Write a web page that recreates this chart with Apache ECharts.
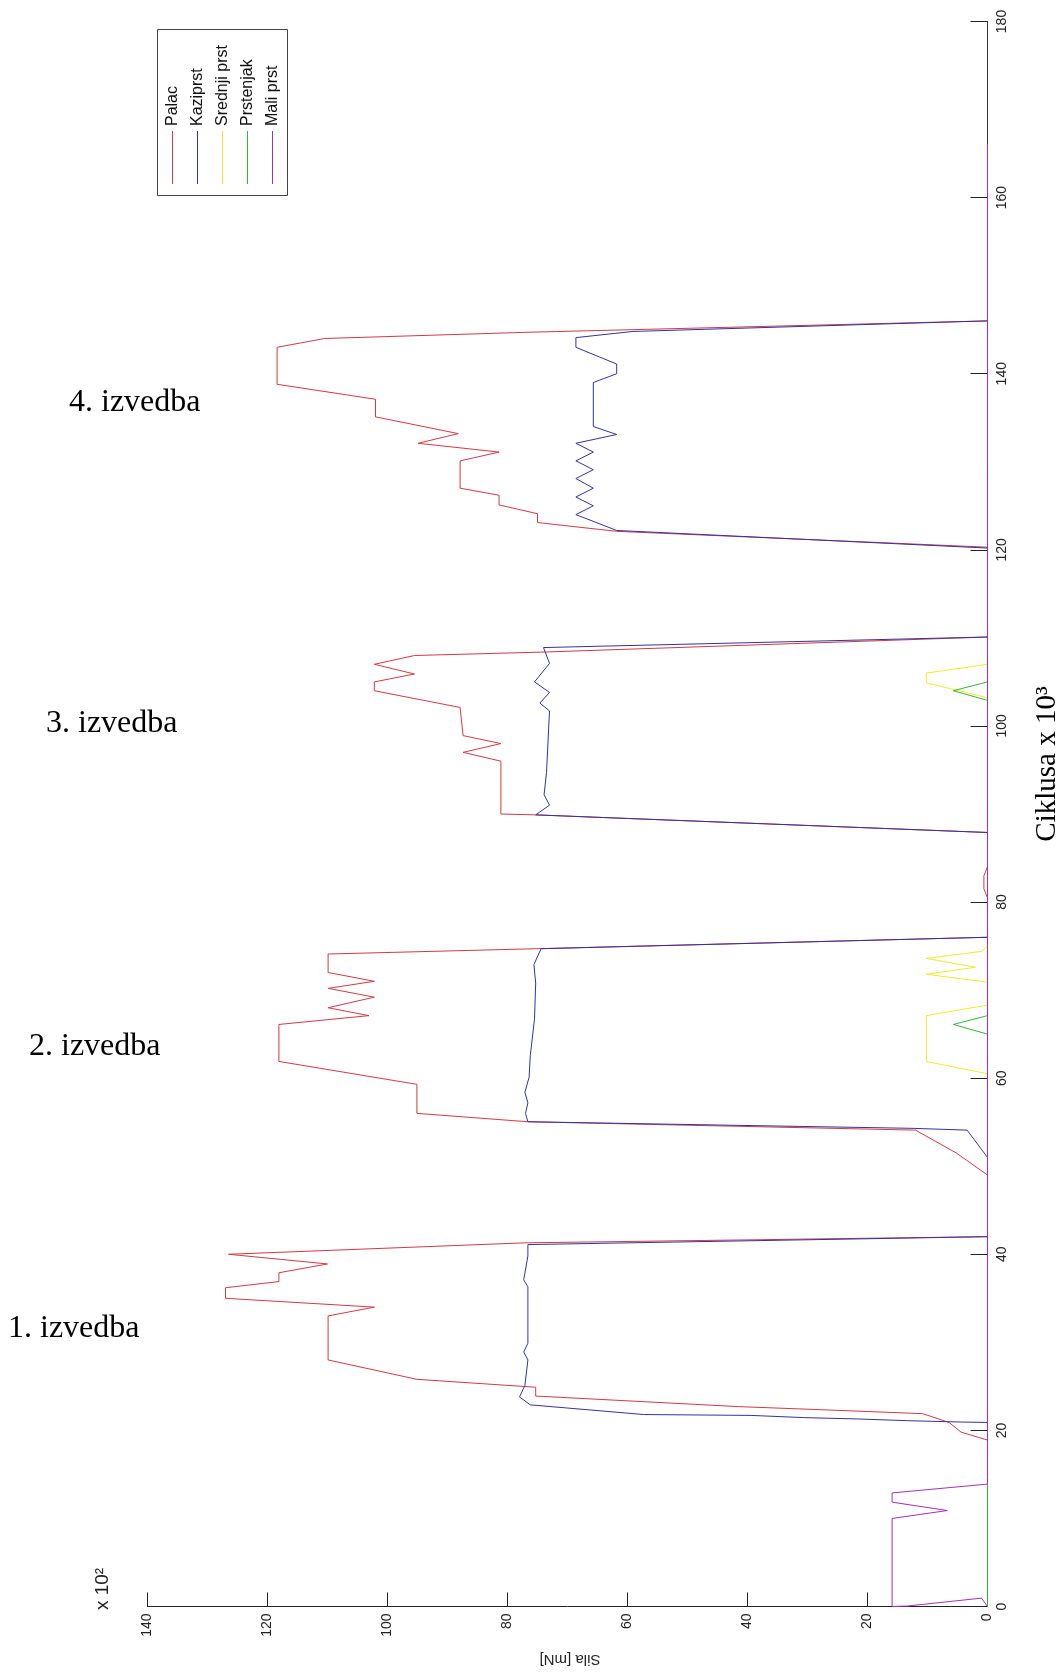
<!DOCTYPE html>
<html>
<head>
<meta charset="utf-8">
<script src="https://cdn.jsdelivr.net/npm/echarts@6/dist/echarts.min.js"></script>
<style>
  html, body { margin: 0; padding: 0; background: #fff; }
  #chart { width: 1059px; height: 1672px; }
</style>
</head>
<body>
<div id="chart"></div>
<script>
// tocke su [ciklus (x10^3), sila (x10^2 mN)]
var palac = [
  [0, 0], [18.9, 0], [19.8, 4.4], [20.9, 6.4], [21.9, 10.8], [22.35, 27.8], [22.7, 41.5], [23.9, 75.3], [24.9, 75.3],
  [25.8, 95.1], [28.0, 109.9], [33.0, 109.9], [34.0, 102.2], [35.0, 127], [36.2, 127], [36.9, 118.1], [37.9, 118.1],
  [38.9, 110], [40.0, 126.5], [41.3, 77.1], [42.0, 0],
  [49.0, 0], [51.5, 5.2], [54.1, 12], [55.05, 76.6], [56.0, 95.1], [59.3, 95.1], [61.9, 118.1], [66.1, 118.1],
  [67.1, 103.1], [68.0, 109.9], [69.2, 102.2], [70.2, 109.9], [71.0, 102.2], [72.0, 109.9], [74.1, 109.9], [74.7, 75.3], [76.0, 0],
  [80.5, 0], [81.5, 0.6], [83, 0.6], [84, 0],
  [87.9, 0], [89.9, 75.3], [90.0, 81.1], [96.0, 81.1], [97.0, 87.4], [98.0, 81.1], [98.9, 87.4], [102.1, 87.9],
  [104.0, 102.2], [105.0, 102.2], [105.9, 95.5], [107.0, 102.2], [108.0, 95.5], [108.4, 73.5], [110.1, 0],
  [120.3, 0], [122.1, 61.8], [123.1, 75], [124.1, 75], [125.1, 81.4], [126.2, 81.4], [127.0, 87.9], [130.1, 87.9],
  [131.1, 81.4], [132.1, 94.9], [133.2, 88.2], [135.1, 102], [137.1, 102], [138.8, 118.4], [143.0, 118.4],
  [144.0, 110.5], [144.7, 77.1], [146.0, 0], [166, 0]
];
var kaziprst = [
  [0, 0], [20.9, 0], [20.95, 4.4], [21.1, 13.3], [21.3, 21.7], [21.45, 30.6], [21.7, 39.4], [21.8, 57.3], [22.9, 76.2],
  [23.8, 78], [25.1, 77.1], [28.0, 76.6], [28.9, 77.3], [29.9, 76.6], [36.3, 76.6], [37.1, 77.3], [39.8, 76.6], [41.1, 76.6], [42.0, 0],
  [51.0, 0], [54.1, 3.4], [54.3, 12.4], [55.05, 76.6], [56.0, 77], [57.2, 76.6], [58.4, 77.1], [60.1, 76.4], [62.6, 76.2],
  [66.7, 75.5], [70.8, 75.3], [72.9, 75.6], [74.7, 74.4], [76.0, 0],
  [87.9, 0], [89.9, 75.3], [91.0, 73.0], [92.2, 73.9], [94.7, 73.5], [101.7, 73.0], [102.6, 74.6], [103.8, 73.0],
  [105.0, 75.5], [107.1, 73.0], [108.9, 74.0], [110.1, 0],
  [120.2, 0], [122.2, 61.8], [124.0, 68.6], [125.0, 65.7], [126.0, 68.6], [127.0, 65.7], [128.1, 68.6], [129.1, 65.7],
  [130.1, 68.6], [131.1, 65.7], [132.1, 68.6], [133.1, 61.8], [134.0, 65.7], [139.0, 65.7], [140.0, 61.8], [141.1, 61.8],
  [143.0, 68.6], [144.1, 68.6], [144.8, 59.1], [146.0, 0], [166, 0]
];
var srednji = [
  [0, 0], [60.5, 0], [61.9, 10.2], [67.1, 10.2], [68.3, 0],
  [70.9, 0], [71.8, 10.2], [72.6, 2], [73.6, 10.2], [74.4, 1], [75.0, 0],
  [103.2, 0], [104.9, 10.2], [106.0, 10.2], [107.0, 0], [166, 0]
];
var prstenjak = [
  [0, 0], [65.0, 0], [66.1, 5.7], [67.1, 0], [102.9, 0], [104.0, 5.7], [105.0, 0], [166, 0]
];
var maliPrst = [
  [0, 0], [0.95, 1], [0.05, 13.4], [0, 15.9], [10.0, 15.9], [10.9, 6.7], [11.85, 15.9], [12.9, 15.9], [13.9, 0], [166, 0]
];

var names = ['Palac', 'Kaziprst', 'Srednji prst', 'Prstenjak', 'Mali prst'];
var colors = ['#d23a44', '#33339e', '#eeec2a', '#38b438', '#a232b4'];
var izvedbe = ['1. izvedba', '2. izvedba', '3. izvedba', '4. izvedba'];
var silaMax = 140, ciklusMax = 180;

var chart = echarts.init(document.getElementById('chart'));
var allData = [palac, kaziprst, srednji, prstenjak, maliPrst];

var series = allData.map(function (d, i) {
  return {
    name: names[i],
    type: 'line',
    symbol: 'none',
    clip: false,
    lineStyle: { width: 1, color: colors[i] },
    data: d.map(function (p) { return [p[1], p[0]]; })
  };
});

// legenda (okomita, tekst zarotiran)
var legendEls = [{
  type: 'rect', shape: { x: 157.5, y: 29.5, width: 130, height: 166 },
  style: { fill: '#fff', stroke: '#444', lineWidth: 1 }
}];
names.forEach(function (n, i) {
  var lx = 172.5 + i * 25;
  legendEls.push({
    type: 'line', shape: { x1: lx, y1: 131, x2: lx, y2: 184 },
    style: { stroke: colors[i], lineWidth: 1 }
  });
  legendEls.push({
    type: 'text', x: lx, y: 126, rotation: Math.PI / 2,
    style: { text: n, fontFamily: 'Liberation Sans', fontSize: 16, fill: '#111', align: 'left', verticalAlign: 'middle' }
  });
});

// oznake izvedbi
var izvPos = [[8, 1329], [29, 1047], [46, 724], [69, 403]];
var textEls = izvedbe.map(function (t, i) {
  return {
    type: 'text', x: izvPos[i][0], y: izvPos[i][1],
    style: { text: t, fontFamily: 'Liberation Serif', fontSize: 32, fill: '#000', align: 'left', verticalAlign: 'middle' }
  };
});

textEls.push({
  type: 'text', x: 1047, y: 764, rotation: Math.PI / 2,
  style: { text: 'Ciklusa x 10³', fontFamily: 'Liberation Serif', fontSize: 29, fill: '#000', align: 'center', verticalAlign: 'middle' }
});
textEls.push({
  type: 'text', x: 570, y: 1659, rotation: Math.PI,
  style: { text: 'Sila [mN]', fontFamily: 'Liberation Sans', fontSize: 15, fill: '#222', align: 'center', verticalAlign: 'middle' }
});
textEls.push({
  type: 'text', x: 103, y: 1589, rotation: Math.PI / 2,
  style: { text: 'x 10²', fontFamily: 'Liberation Sans', fontSize: 19, fill: '#222', align: 'center', verticalAlign: 'middle' }
});

chart.setOption({
  animation: false,
  backgroundColor: '#fff',
  grid: { left: 147.5, right: 71.5, top: 21.5, bottom: 65.5 },
  xAxis: {
    type: 'value', min: 0, max: silaMax, interval: 20, inverse: true, position: 'bottom',
    axisLine: { lineStyle: { color: '#222', width: 1 } },
    axisTick: { inside: true, length: 14, lineStyle: { color: '#222' } },
    axisLabel: { rotate: 90, margin: 7, fontFamily: 'Liberation Sans', fontSize: 14, color: '#222' },
    splitLine: { show: false }
  },
  yAxis: {
    type: 'value', min: 0, max: ciklusMax, interval: 20, position: 'right',
    axisLine: { show: true, lineStyle: { color: '#333', width: 1 } },
    axisTick: { show: true, inside: true, length: 17, lineStyle: { color: '#222' } },
    axisLabel: { rotate: 90, margin: 8, fontFamily: 'Liberation Sans', fontSize: 14, color: '#222' },
    splitLine: { show: false }
  },
  graphic: legendEls.concat(textEls),
  series: series
});
</script>
</body>
</html>
